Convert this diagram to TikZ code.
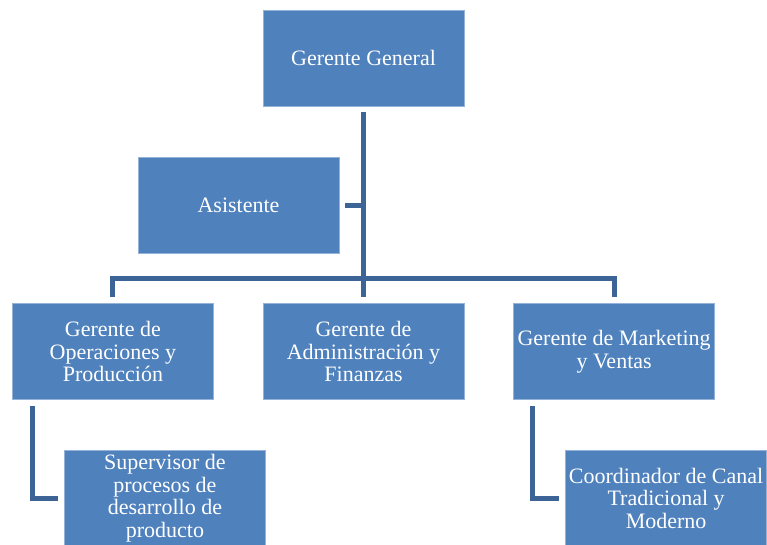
\documentclass[tikz,border=0pt]{standalone}
\usepackage{fontspec}
\setmainfont{Liberation Serif}
\usetikzlibrary{positioning}
\definecolor{boxblue}{HTML}{4F81BD}
\definecolor{lineblue}{HTML}{3C6496}

\begin{document}
\begin{tikzpicture}[
    x=1pt, y=-1pt,
    box/.style={draw=boxblue!60!white, line width=0.6pt, fill=boxblue, text=white,
        minimum width=201pt, minimum height=96pt, align=center, inner sep=1pt,
        font=\fontsize{22}{22.5}\selectfont},
    link/.style={draw=lineblue, line width=5pt, line join=miter}
]
    \useasboundingbox (0,0) rectangle (767,545);

    % Top level
    \node[box] (GG) at (363.5,58) {Gerente General};
    \node[box, below=51pt of GG, xshift=-125pt] (AS) {Asistente};

    % Managers
    \node[box, below=197pt of GG] (AF) {Gerente de\\Administración y\\Finanzas};
    \node[box, left=49pt of AF] (OP) {Gerente de\\Operaciones y\\Producción};
    \node[box, right=49pt of AF] (MV) {Gerente de Marketing\\y Ventas};

    % Staff
    \node[box, below=50pt of OP, xshift=52pt] (SP) {Supervisor de\\procesos de\\desarrollo de\\producto};
    \node[box, below=50pt of MV, xshift=52pt] (CC) {Coordinador de Canal\\Tradicional y\\Moderno};

    % Connectors
    \coordinate (bar) at (363.5,278);
    \draw[link] ([yshift=-6pt]GG.south) -- ([yshift=6pt]AF.north);
    \draw[link] ([yshift=6pt]OP.north) |- (bar) -| ([yshift=6pt]MV.north);
    \draw[link] ([xshift=6pt]AS.east) -- (AS.east -| GG.south);
    \draw[link] ([xshift=20pt,yshift=-6pt]OP.south west) |- ([xshift=-6pt]SP.west);
    \draw[link] ([xshift=19pt,yshift=-6pt]MV.south west) |- ([xshift=-6pt]CC.west);
\end{tikzpicture}
\end{document}
